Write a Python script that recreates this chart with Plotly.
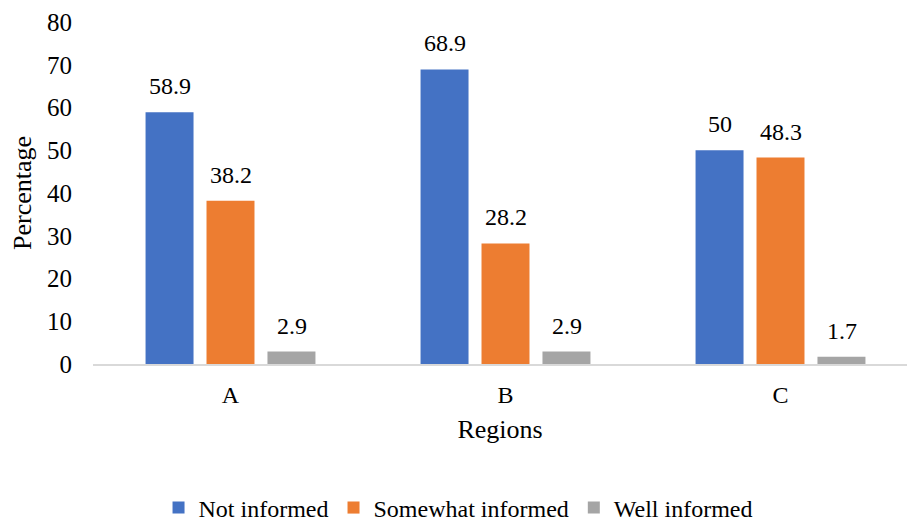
import plotly.graph_objects as go

regions = ["A", "B", "C"]
not_informed = [58.9, 68.9, 50]
somewhat_informed = [38.2, 28.2, 48.3]
well_informed = [2.9, 2.9, 1.7]

series = [
    ("Not informed", not_informed, "#4472C4"),
    ("Somewhat informed", somewhat_informed, "#ED7D31"),
    ("Well informed", well_informed, "#A5A5A5"),
]

FONT = "Liberation Serif"
BLACK = "#000000"

fig = go.Figure()
for name, vals, color in series:
    fig.add_trace(go.Bar(x=regions, y=vals, name=name, marker_color=color,
                         marker_line_width=0))

# value labels above each bar
offsets = [-61, 0, 61]
annotations = []
for (name, vals, color), dx in zip(series, offsets):
    for r, v in zip(regions, vals):
        annotations.append(dict(x=r, y=v, text=f"{v:g}", showarrow=False,
                                xshift=dx, yshift=11, yanchor="bottom",
                                font=dict(size=24, color=BLACK, family=FONT)))

fig.update_layout(
    width=907, height=521,
    margin=dict(l=93, r=0, t=22, b=157),
    paper_bgcolor="white", plot_bgcolor="white",
    font=dict(family=FONT, size=24, color=BLACK),
    barmode="group", bargap=0.335, bargroupgap=0.213,
    annotations=annotations,
    showlegend=True,
    legend=dict(orientation="h", xref="container", yref="container",
                x=0.505, xanchor="center", y=0.025, yanchor="middle",
                font=dict(size=24, family=FONT, color=BLACK),
                traceorder="normal"),
    xaxis=dict(range=[-0.5, 2.46], showline=True, linecolor="#D9D9D9",
               linewidth=1.5, showgrid=False, ticks="", ticklabelstandoff=8,
               tickfont=dict(family=FONT, size=24, color=BLACK),
               title=dict(text="Regions", standoff=13,
                          font=dict(size=26, family=FONT, color=BLACK))),
    yaxis=dict(range=[0, 80], dtick=10, showgrid=False, zeroline=False,
               showline=False, ticks="", ticklabelstandoff=20,
               tickfont=dict(family=FONT, size=25, color=BLACK),
               title=dict(text="Percentage", standoff=7,
                          font=dict(size=26, family=FONT, color=BLACK))),
)

fig.write_html("out.html")
